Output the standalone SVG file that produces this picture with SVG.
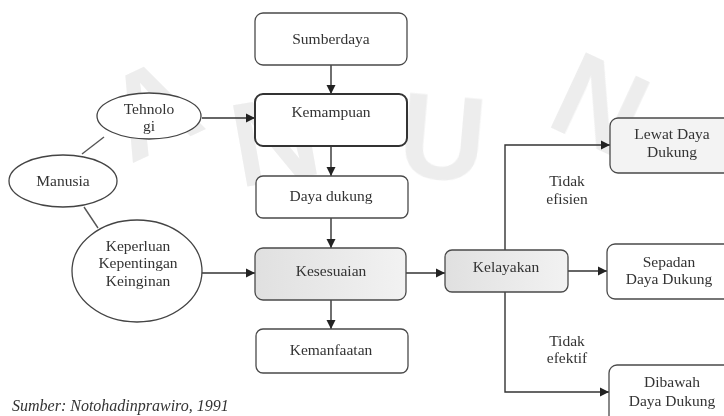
<svg xmlns="http://www.w3.org/2000/svg" width="724" height="416" viewBox="0 0 724 416">
<style>
.box{fill:#fff;stroke:#4a4a4a;stroke-width:1.3}
.gbox{fill:#e6e6e6;stroke:#4a4a4a;stroke-width:1.3}
.ell{fill:#fff;stroke:#444;stroke-width:1.3}
.t{font-family:"Liberation Serif","Times New Roman",serif;font-size:15.5px;fill:#333;text-anchor:middle}
.ln{fill:none;stroke:#333;stroke-width:1.4}
.wm{font-family:"Liberation Sans",Arial,sans-serif;font-weight:bold;font-size:120px;fill:#e9e9e9}
</style>
<defs>
<marker id="ah" markerWidth="10" markerHeight="10" refX="9" refY="5" orient="auto" markerUnits="userSpaceOnUse">
<path d="M0,0.5 L9,5 L0,9.5 Z" fill="#222"/>
</marker>
<linearGradient id="g1" x1="0" y1="0" x2="1" y2="0">
<stop offset="0" stop-color="#e0e0e0"/><stop offset="1" stop-color="#f2f2f2"/>
</linearGradient>
</defs>
<rect width="724" height="416" fill="#fff"/>
<g id="watermark" opacity="0.8">
<text class="wm" x="105" y="150" transform="rotate(-25 150 100)">A</text>
<text class="wm" x="230" y="180" transform="rotate(-10 280 130)">N</text>
<text class="wm" x="400" y="180" transform="rotate(5 450 130)">U</text>
<text class="wm" x="560" y="150" transform="rotate(25 610 100)">N</text>
</g>
<g id="connectors">
<line class="ln" x1="331" y1="65" x2="331" y2="94" marker-end="url(#ah)"/>
<line class="ln" x1="331" y1="146" x2="331" y2="176" marker-end="url(#ah)"/>
<line class="ln" x1="331" y1="218" x2="331" y2="248" marker-end="url(#ah)"/>
<line class="ln" x1="331" y1="300" x2="331" y2="329" marker-end="url(#ah)"/>
<line class="ln" x1="202" y1="118" x2="255" y2="118" marker-end="url(#ah)"/>
<line class="ln" x1="202" y1="273" x2="255" y2="273" marker-end="url(#ah)"/>
<line class="ln" x1="406" y1="273" x2="445" y2="273" marker-end="url(#ah)"/>
<line class="ln" x1="568" y1="271" x2="607" y2="271" marker-end="url(#ah)"/>
<polyline class="ln" points="505,250 505,145 610,145" marker-end="url(#ah)"/>
<polyline class="ln" points="505,292 505,392 609,392" marker-end="url(#ah)"/>
<line class="ln" x1="82" y1="154" x2="104" y2="137" style="stroke:#555"/>
<line class="ln" x1="84" y1="207" x2="98" y2="228" style="stroke:#555"/>
<text class="t" x="567" y="186">Tidak</text>
<text class="t" x="567" y="204">efisien</text>
<text class="t" x="567" y="346">Tidak</text>
<text class="t" x="567" y="363">efektif</text>
</g>
<g id="sumberdaya"><rect class="box" x="255" y="13" width="152" height="52" rx="8"/><text class="t" x="331" y="44">Sumberdaya</text></g>
<g id="kemampuan"><rect class="box" x="255" y="94" width="152" height="52" rx="8" style="stroke:#333;stroke-width:2"/><text class="t" x="331" y="117">Kemampuan</text></g>
<g id="dayadukung"><rect class="box" x="256" y="176" width="152" height="42" rx="7"/><text class="t" x="331" y="201">Daya dukung</text></g>
<g id="kesesuaian"><rect class="gbox" x="255" y="248" width="151" height="52" rx="8" style="fill:url(#g1)"/><text class="t" x="331" y="276">Kesesuaian</text></g>
<g id="kemanfaatan"><rect class="box" x="256" y="329" width="152" height="44" rx="7"/><text class="t" x="331" y="355">Kemanfaatan</text></g>
<g id="kelayakan"><rect class="gbox" x="445" y="250" width="123" height="42" rx="7" style="fill:url(#g1)"/><text class="t" x="506" y="272">Kelayakan</text></g>
<g id="lewat"><rect class="box" x="610" y="118" width="122" height="55" rx="8" style="fill:#f3f3f3"/><text class="t" x="672" y="139">Lewat Daya</text><text class="t" x="672" y="157">Dukung</text></g>
<g id="sepadan"><rect class="box" x="607" y="244" width="125" height="55" rx="8"/><text class="t" x="669" y="267">Sepadan</text><text class="t" x="669" y="284">Daya Dukung</text></g>
<g id="dibawah"><rect class="box" x="609" y="365" width="123" height="60" rx="8"/><text class="t" x="672" y="387">Dibawah</text><text class="t" x="672" y="406">Daya Dukung</text></g>
<g id="tehnologi"><ellipse class="ell" cx="149" cy="116" rx="52" ry="23"/><text class="t" x="149" y="114">Tehnolo</text><text class="t" x="149" y="131">gi</text></g>
<g id="manusia"><ellipse class="ell" cx="63" cy="181" rx="54" ry="26"/><text class="t" x="63" y="186">Manusia</text></g>
<g id="keperluan"><ellipse class="ell" cx="137" cy="271" rx="65" ry="51"/><text class="t" x="138" y="251">Keperluan</text><text class="t" x="138" y="268">Kepentingan</text><text class="t" x="138" y="286">Keinginan</text></g>
<text x="12" y="411" style="font-family:'Liberation Serif','Times New Roman',serif;font-style:italic;font-size:16px;fill:#333">Sumber: Notohadinprawiro, 1991</text>
</svg>
